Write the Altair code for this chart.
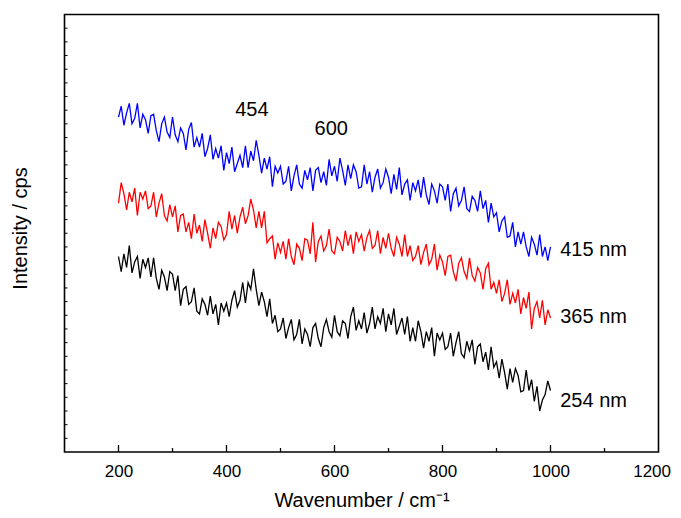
import altair as alt
import pandas as pd

# wavenumber grid (cm^-1), 5 cm^-1 steps
wavenumber = list(range(200, 1001, 5))

# intensities (arbitrary units, 10 units = one y tick)
blue_415 = [
    245, 253, 239, 248, 255, 240, 244, 255, 237, 247,
    243, 233, 246, 247, 235, 227, 240, 245, 234, 230,
    245, 232, 227, 237, 233, 221, 236, 241, 223, 230,
    223, 233, 216, 222, 232, 214, 222, 215, 224, 206,
    219, 211, 223, 205, 211, 217, 208, 224, 208, 220,
    213, 228, 217, 204, 215, 207, 216, 194, 209, 204,
    209, 196, 198, 209, 191, 202, 210, 196, 193, 206,
    199, 208, 191, 206, 208, 197, 205, 195, 214, 202,
    209, 198, 215, 206, 195, 210, 200, 210, 205, 193,
    194, 210, 196, 205, 190, 201, 207, 193, 197, 207,
    201, 189, 203, 192, 208, 188, 196, 199, 184, 197,
    191, 199, 186, 201, 188, 181, 196, 191, 182, 196,
    194, 184, 196, 176, 189, 193, 180, 184, 194, 178,
    176, 187, 184, 176, 191, 178, 184, 168, 182, 172,
    175, 161, 169, 172, 157, 158, 168, 150, 161, 152,
    161, 150, 143, 157, 152, 144, 159, 143, 150, 140, 150,
]
red_365 = [
    182, 197, 189, 177, 190, 183, 193, 173, 190, 185,
    191, 178, 180, 190, 172, 182, 189, 173, 169, 181,
    172, 180, 161, 173, 174, 161, 168, 156, 174, 160,
    166, 154, 170, 160, 149, 164, 156, 168, 165, 155,
    159, 176, 163, 173, 160, 172, 179, 167, 173, 185,
    177, 164, 176, 164, 176, 153, 156, 158, 141, 153,
    146, 154, 141, 156, 143, 137, 152, 149, 140, 156,
    155, 145, 168, 139, 154, 158, 147, 151, 163, 147,
    145, 157, 154, 147, 162, 151, 159, 145, 161, 154,
    159, 147, 157, 162, 149, 151, 162, 145, 157, 149,
    160, 149, 143, 157, 152, 143, 159, 143, 151, 140,
    143, 151, 137, 146, 152, 137, 141, 152, 133, 144,
    139, 129, 143, 144, 132, 125, 138, 142, 132, 127,
    142, 129, 125, 135, 131, 119, 134, 138, 119, 124,
    116, 126, 110, 116, 126, 108, 116, 109, 119, 101,
    113, 105, 117, 90, 105, 110, 98, 111, 93, 104, 98,
]
black_254 = [
    143, 132, 145, 135, 151, 131, 139, 143, 127, 141,
    135, 142, 128, 142, 127, 119, 133, 128, 118, 132,
    130, 118, 129, 107, 119, 121, 108, 110, 120, 103,
    101, 112, 108, 100, 114, 101, 108, 93, 109, 103,
    109, 99, 111, 118, 106, 111, 124, 109, 124, 119,
    134, 119, 107, 117, 110, 99, 112, 94, 100, 88,
    90, 98, 83, 91, 97, 82, 86, 97, 79, 90,
    86, 77, 91, 94, 83, 77, 91, 97, 88, 84,
    100, 88, 85, 96, 94, 83, 99, 106, 89, 96,
    90, 102, 87, 94, 106, 90, 99, 94, 105, 88,
    101, 93, 105, 86, 92, 98, 86, 99, 81, 91,
    81, 96, 88, 76, 88, 81, 91, 70, 87, 82,
    87, 75, 77, 87, 70, 80, 88, 72, 69, 81,
    74, 82, 64, 77, 79, 66, 73, 60, 77, 62,
    66, 54, 68, 58, 46, 61, 51, 61, 56, 44,
    45, 60, 45, 53, 37, 48, 30, 38, 42, 52, 45,
]

series_names = ["415 nm", "365 nm", "254 nm"]
series_colors = ["#0000ff", "#ff0000", "#000000"]
series_values = [blue_415, red_365, black_254]

# end labels and peak annotations
label_text = ["415 nm", "365 nm", "254 nm"]
label_wn = [1018, 1018, 1018]
label_v = [147.8, 98.8, 37.3]
peak_text = ["454", "600"]
peak_wn = [447, 594]
peak_v = [250.2, 236.3]

x_major = [200, 400, 600, 800, 1000, 1200]
x_minor = [300, 500, 700, 900, 1100]
y_ticks = list(range(10, 320, 10))

rows = []
for name, vals in zip(series_names, series_values):
    for w, v in zip(wavenumber, vals):
        rows.append({"wn": w, "v": v, "series": name})
df = pd.DataFrame(rows)

W, H = 594, 437.5
xs = alt.Scale(domain=[100, 1200], nice=False, zero=False)
ys = alt.Scale(domain=[0, 320], nice=False, zero=False)
FONT = "Liberation Sans"

lines = alt.Chart(df).mark_line(strokeWidth=1.3, clip=True).encode(
    x=alt.X("wn:Q", scale=xs,
            axis=alt.Axis(values=x_major, format="d", labelFontSize=17, labelFont=FONT,
                          labelColor="black", ticks=False, tickSize=0,
                          domain=False, grid=False, labelPadding=11,
                          title="Wavenumber / cm⁻¹", titleFont=FONT,
                          titleFontSize=20, titleFontWeight="normal",
                          titleColor="black", titleY=48, titleBaseline="middle",
                          labelFlush=True, labelFlushOffset=12)),
    y=alt.Y("v:Q", scale=ys,
            axis=alt.Axis(labels=False, ticks=False, domain=False, grid=False,
                          title="Intensity / cps", titleFont=FONT,
                          titleFontSize=20, titleFontWeight="normal",
                          titleColor="black", titleX=-44.5, titleY=213.5,
                          titleAngle=270, titleBaseline="middle",
                          titleAlign="center")),
    color=alt.Color("series:N", scale=alt.Scale(domain=series_names, range=series_colors),
                    legend=None),
    detail="series:N",
)

major_df = pd.DataFrame({"wn": x_major[:-1]})
minor_df = pd.DataFrame({"wn": x_minor})
ytick_df = pd.DataFrame({"v": y_ticks})

major_ticks = alt.Chart(major_df).mark_rule(color="black", strokeWidth=1.3).encode(
    x=alt.X("wn:Q", scale=xs), y=alt.value(H), y2=alt.value(H - 7))
minor_ticks = alt.Chart(minor_df).mark_rule(color="black", strokeWidth=1.3).encode(
    x=alt.X("wn:Q", scale=xs), y=alt.value(H), y2=alt.value(H - 4))
y_tick_marks = alt.Chart(ytick_df).mark_rule(color="black", strokeWidth=1).encode(
    y=alt.Y("v:Q", scale=ys), x=alt.value(0), x2=alt.value(3))

lab_df = pd.DataFrame({"wn": label_wn, "v": label_v, "t": label_text})
labels = alt.Chart(lab_df).mark_text(align="left", baseline="middle", fontSize=20,
                                     font=FONT, color="black").encode(
    x=alt.X("wn:Q", scale=xs), y=alt.Y("v:Q", scale=ys), text="t:N")

peak_df = pd.DataFrame({"wn": peak_wn, "v": peak_v, "t": peak_text})
peaks = alt.Chart(peak_df).mark_text(align="center", baseline="middle", fontSize=20,
                                     font=FONT, color="black").encode(
    x=alt.X("wn:Q", scale=xs), y=alt.Y("v:Q", scale=ys), text="t:N")

chart = alt.layer(lines, major_ticks, minor_ticks, y_tick_marks, labels, peaks).properties(
    width=W, height=H,
    background="white",
    autosize=alt.AutoSizeParams(type="none"),
    padding={"left": 56.5, "top": 6.5, "right": 14, "bottom": 58},
).configure_view(stroke="black", strokeWidth=1.6)

chart.save("out.html", embed_options={"renderer": "svg", "actions": False})
